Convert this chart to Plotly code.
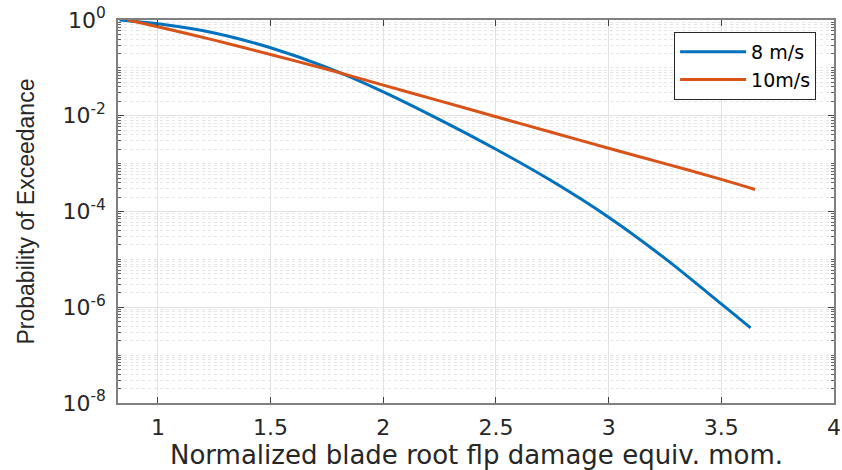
import plotly.graph_objects as go

# Data (log10 of probability of exceedance)
x_8 = [0.83, 1.0, 1.25, 1.5, 1.75, 2.0, 2.25, 2.5, 2.75, 3.0, 3.25, 3.5, 3.63]
log_p_8 = [0.0, -0.08, -0.27, -0.58, -0.99, -1.5, -2.08, -2.7, -3.37, -4.12, -4.98, -5.93, -6.43]

x_10 = [0.867, 1.0, 1.25, 1.5, 1.75, 2.0, 2.25, 2.5, 2.75, 3.0, 3.25, 3.5, 3.65]
log_p_10 = [0.0, -0.14, -0.42, -0.72, -1.03, -1.36, -1.69, -2.02, -2.35, -2.68, -3.0, -3.33, -3.54]

x_ticks = [1, 1.5, 2, 2.5, 3, 3.5, 4]
x_tick_labels = ["1", "1.5", "2", "2.5", "3", "3.5", "4"]
y_exp_ticks = [-8, -6, -4, -2, 0]

x_title = "Normalized blade root flp damage equiv. mom."
y_title = "Probability of Exceedance"

p_8 = [10 ** v for v in log_p_8]
p_10 = [10 ** v for v in log_p_10]
y_tickvals = [10 ** e for e in y_exp_ticks]
y_ticktext = ["10<sup>%d</sup>" % e for e in y_exp_ticks]
minor_vals = [m * 10 ** k for k in range(-8, 0) for m in range(1, 10)
              if not (m == 1 and k in y_exp_ticks)]

fig = go.Figure()
fig.add_trace(go.Scatter(x=x_8, y=p_8, mode="lines", name="8 m/s",
                         line=dict(color="#0072BD", width=3, shape="spline", smoothing=0.8)))
fig.add_trace(go.Scatter(x=x_10, y=p_10, mode="lines", name="10m/s",
                         line=dict(color="#D95319", width=3, shape="spline", smoothing=0.8)))

axis_col = "#808080"
fig.update_layout(
    width=842, height=470,
    margin=dict(l=118, r=8, t=20, b=67),
    paper_bgcolor="white", plot_bgcolor="white",
    font=dict(family="DejaVu Sans", color="#262626"),
    legend=dict(x=0.975, y=0.969, xanchor="right", yanchor="top",
                bgcolor="white", bordercolor="#262626", borderwidth=1,
                font=dict(size=19, family="DejaVu Sans", color="#000000"),
                itemwidth=66, tracegroupgap=0),
    showlegend=True,
    annotations=[
        dict(text=x_title, xref="paper", yref="paper", x=0.5, y=-(455 - 403) / 383,
             xanchor="center", yanchor="middle", showarrow=False,
             font=dict(size=26, family="DejaVu Sans", color="#262626")),
        dict(text=y_title, xref="paper", yref="paper", x=-(118 - 25) / 716, y=0.5,
             xanchor="center", yanchor="middle", showarrow=False, textangle=-90,
             font=dict(size=23, family="Liberation Sans", color="#262626")),
    ],
)
fig.update_xaxes(
    range=[0.823, 4], tickmode="array", tickvals=x_ticks, ticktext=x_tick_labels,
    ticks="inside", ticklen=6, tickcolor="#404040", mirror="ticks",
    showline=True, linecolor=axis_col, linewidth=1.5,
    showgrid=True, gridcolor="#e2e2e2", gridwidth=1, zeroline=False,
    tickfont=dict(size=22, family="DejaVu Sans", color="#262626"),
    ticklabelstandoff=4, ticklabeloverflow="allow",
    automargin=False,
)
fig.update_yaxes(
    type="log", range=[-8, 0], tickmode="array", tickvals=y_tickvals, ticktext=y_ticktext,
    ticks="inside", ticklen=6, tickcolor="#404040", mirror="ticks",
    showline=True, linecolor=axis_col, linewidth=1.5,
    showgrid=True, gridcolor="#e2e2e2", gridwidth=1, zeroline=False,
    tickfont=dict(size=22, family="DejaVu Sans", color="#262626"),
    ticklabelstandoff=6, ticklabeloverflow="allow",
    minor=dict(tickmode="array", tickvals=minor_vals, ticks="inside", ticklen=3,
               tickcolor="#606060", showgrid=True, gridcolor="#e6e6e6",
               griddash="dot", gridwidth=1),
    automargin=False,
)

fig.write_html(
    "out.html",
    config={"displayModeBar": False},
    post_script="document.body.style.margin='0';document.body.style.overflow='hidden';",
)
